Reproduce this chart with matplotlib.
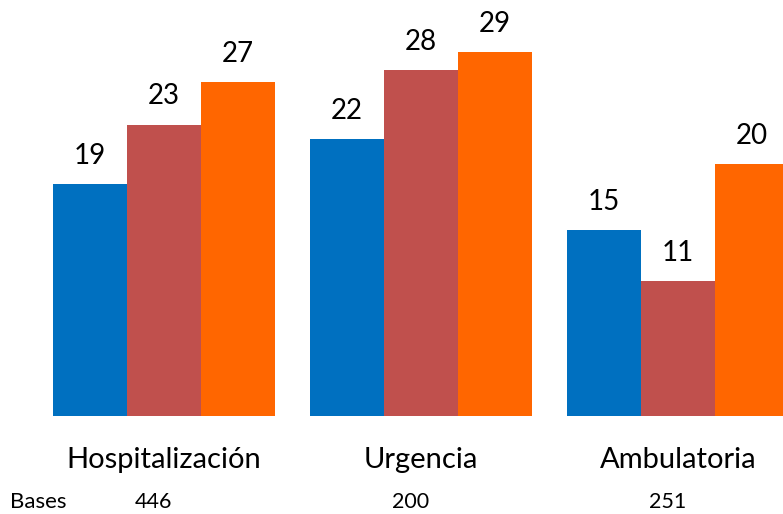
import numpy as np
import matplotlib.pyplot as plt

# Datos
categorias = ['Hospitalización', 'Urgencia', 'Ambulatoria']
serie_1 = [18.6, 22.2, 14.9]
serie_2 = [23.4, 27.8, 10.8]
serie_3 = [26.8, 29.2, 20.2]
bases = [446, 200, 251]

colores = ['#0070C0', '#C0504D', '#FF6600']

plt.rcParams['font.family'] = ['Lato', 'DejaVu Sans']

fig = plt.figure(figsize=(7.83, 5.14), dpi=100)
ax = fig.add_axes([0, 98 / 514, 1, 416 / 514])

x = np.arange(len(categorias))
ancho = 0.287
for i, (serie, color) in enumerate(zip([serie_1, serie_2, serie_3], colores)):
    pos = x + (i - 1) * ancho
    ax.bar(pos, serie, width=ancho, color=color)
    for xi, v in zip(pos, serie):
        ax.annotate(f'{v:.0f}', (xi, v), xytext=(0, 14.5), textcoords='offset points',
                    ha='center', va='baseline', fontsize=20)

ax.set_xlim(-0.638, 2.409)
ax.set_ylim(0, 33.4)
ax.axis('off')

# Etiquetas de categoria y bases
for xi, cat, b in zip(x, categorias, bases):
    ax.text(xi, -52 / 416, cat, transform=ax.get_xaxis_transform(),
            ha='center', va='baseline', fontsize=21)
    ax.text(xi - 0.04, -92 / 416, str(b), transform=ax.get_xaxis_transform(),
            ha='center', va='baseline', fontsize=15.5)

fig.text(10 / 783, 6 / 514, 'Bases', ha='left', va='baseline', fontsize=16)

fig.savefig('out.png', dpi=100)
